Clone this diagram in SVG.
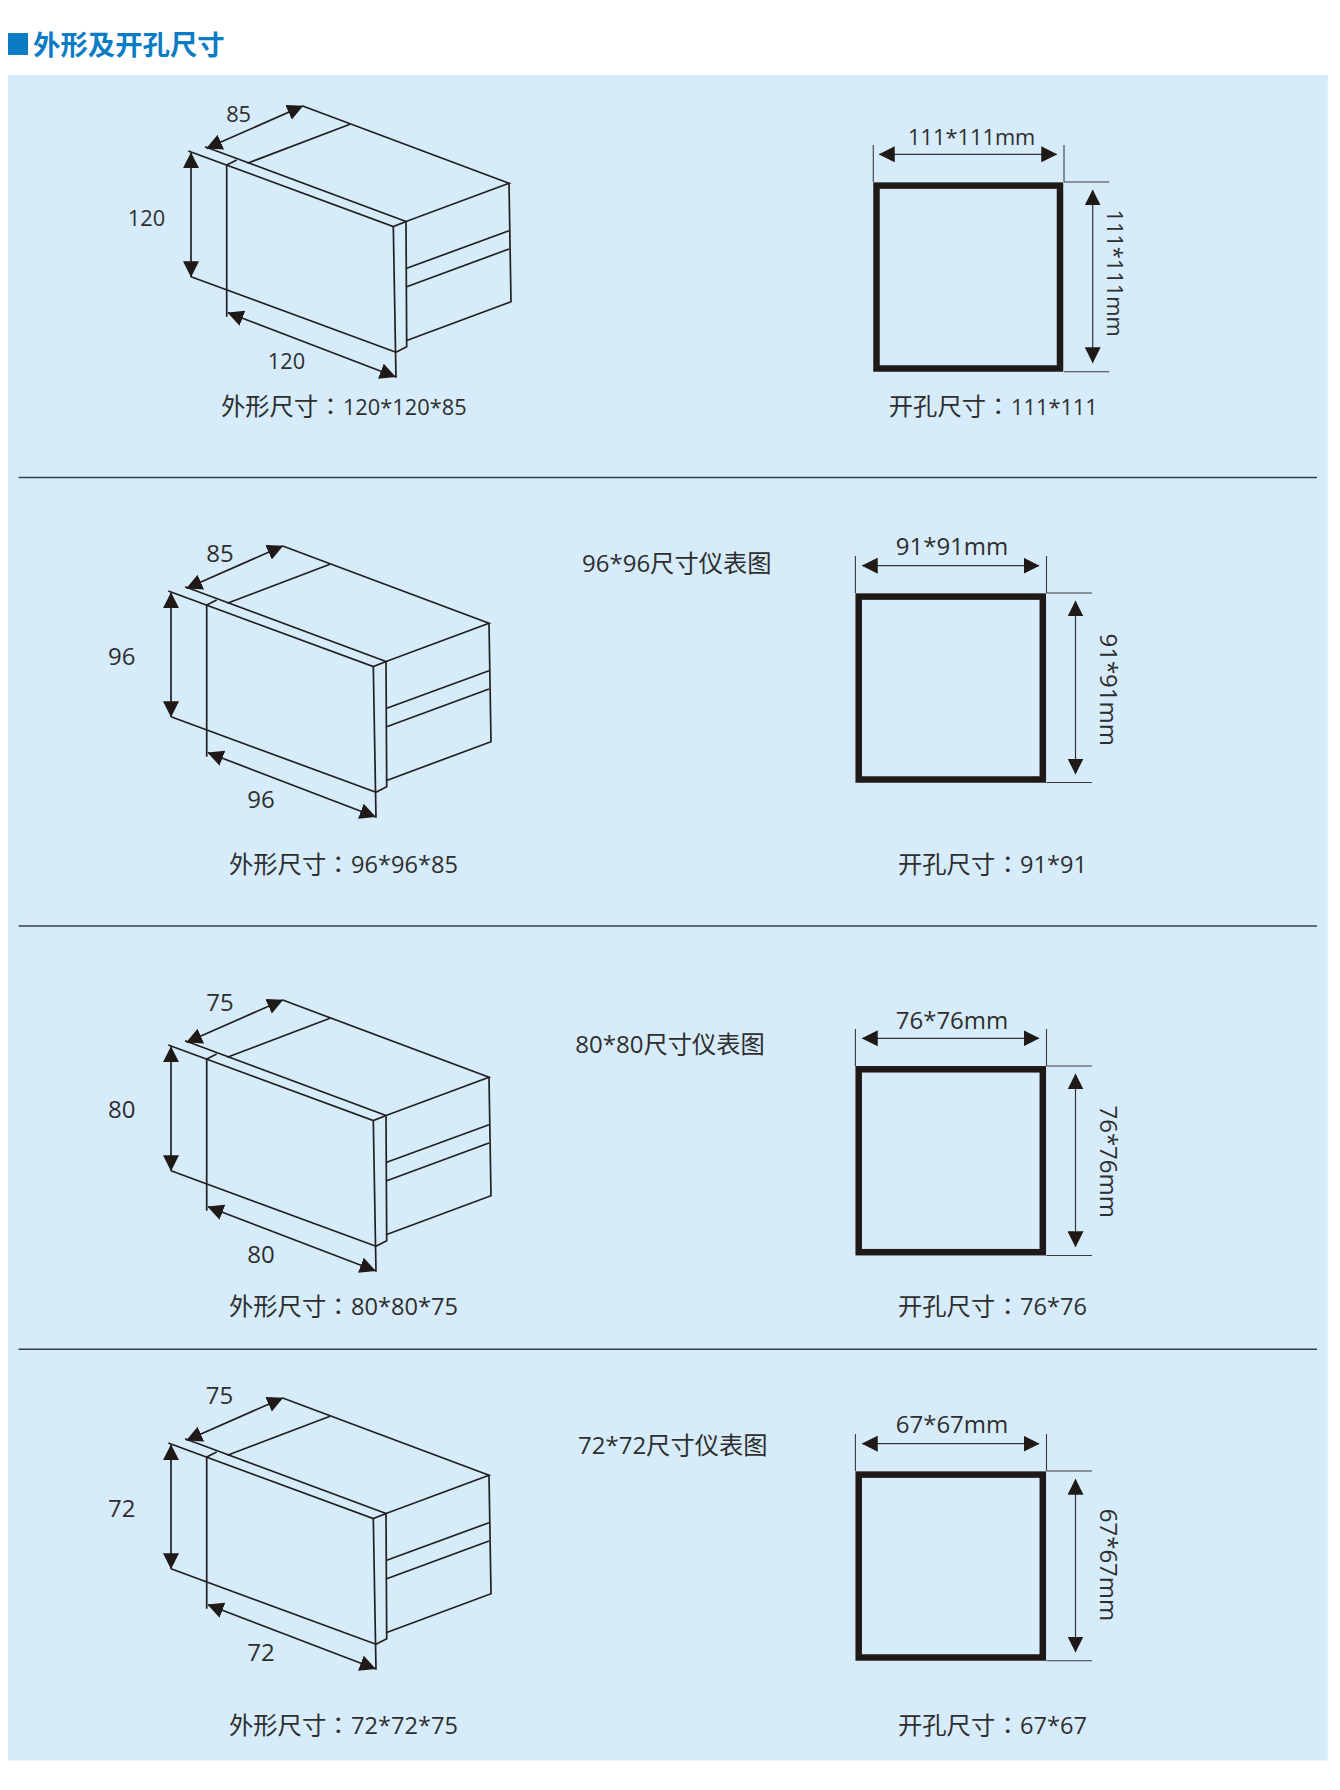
<svg xmlns="http://www.w3.org/2000/svg" xmlns:xlink="http://www.w3.org/1999/xlink" width="1340" height="1790" viewBox="0 0 1340 1790">
<style>
text{font-family:"Open Sans","Noto Sans CJK SC",sans-serif;fill:#2e2e2e;font-size:24px}
.b{font-size:21.8px}
.d{font-size:23.6px}
.c{font-family:"Noto Sans CJK SC","Open Sans",sans-serif;font-size:24.3px;font-weight:400}
.col{font-family:"Noto Sans CJK TC",sans-serif;font-size:24px;font-weight:400}
.m{text-anchor:middle}
.title{font-family:"Noto Sans CJK SC",sans-serif;font-weight:700;font-size:27.4px;fill:#0a7cc4}
.ln{fill:none;stroke:#231f20;stroke-width:1.7;stroke-linejoin:miter}
.thin{fill:none;stroke:#3a3a3a;stroke-width:1.1}
.sq{fill:none;stroke:#1f1a17;stroke-width:6.5}
.sep{stroke:#33404a;stroke-width:1.4}
.dim{fill:none;stroke:#231f20;stroke-width:1.7;marker-start:url(#ah);marker-end:url(#ah)}
.dimt{fill:none;stroke:#333;stroke-width:1.2;marker-start:url(#ah);marker-end:url(#ah)}
</style>
<defs>
<marker id="ah" markerUnits="userSpaceOnUse" markerWidth="16" markerHeight="16" viewBox="0 0 14 14" refX="13.5" refY="7" orient="auto-start-reverse"><path d="M0 0L14 7L0 14Z" fill="#1f1a17"/></marker>
<g id="device" class="ln">
<path d="M168.3 591L373.3 666.5L386 661.5L185 586.7"/>
<path d="M206.7 756.7V605L216.7 600"/>
<path d="M171 716.7L376 792.3"/>
<path d="M373.3 666.5L376 817.7"/>
<path d="M376 792.3L386.7 786.7L386 661.5L489 623.3L282.7 546"/>
<path d="M330 564.3L227.3 603.3"/>
<path d="M489 623.3L491 741.7L386 780.7"/>
<path d="M386.7 708.3L489 670.7M386.7 726.7L489 689"/>
</g>
</defs>
<rect id="panel" x="8" y="75" width="1319.7" height="1685.6" fill="#d6ecfb"/>
<g id="heading">
<rect x="8" y="33" width="20" height="22" fill="#0a7cc4"/>
<text class="title" x="33" y="55">外形及开孔尺寸</text>
</g>
<g id="separators">
<line class="sep" x1="18.6" y1="477.5" x2="1317" y2="477.5"/>
<line class="sep" x1="18.6" y1="926" x2="1317" y2="926"/>
<line class="sep" x1="18.6" y1="1349.3" x2="1317" y2="1349.3"/>
</g>
<g id="device-120">
<use href="#device" xlink:href="#device" x="20" y="-440"/>
<text class="b m" x="238.6" y="121.7">85</text>
<text class="b m" x="146.4" y="225.7">120</text>
<text class="b m" x="286.4" y="369">120</text>
<text y="415"><tspan class="c" x="221">外形尺寸</tspan><tspan class="col" x="318.4">：</tspan><tspan class="b" x="342.9">120*120*85</tspan></text>
</g>
<g id="cutout-111">
<rect class="sq" x="876.5" y="185.6" width="183.5" height="182.9"/>
<path class="thin" d="M873.3 145V182M1064 145V182M1064 182H1109.3M1064 371.7H1109.3"/>
<text class="b m" x="971.7" y="145">111*111mm</text>
<text class="b m" transform="translate(1106.5 273) rotate(90)">111*111mm</text>
<text y="415"><tspan class="c" x="888.8">开孔尺寸</tspan><tspan class="col" x="986.3">：</tspan><tspan class="b" x="1011">111*111</tspan></text>
</g>
<g id="device-96">
<use href="#device" xlink:href="#device"/>
<text class="m" x="220" y="561.7">85</text>
<text class="m" x="121.7" y="665">96</text>
<text class="m" x="261" y="808.3">96</text>
<text y="872.7"><tspan class="c" x="229">外形尺寸</tspan><tspan class="col" x="326.3">：</tspan><tspan class="d" x="351">96*96*85</tspan></text>
</g>
<g id="title-96"><text y="571.7" x="582">96*96<tspan class="c">尺寸仪表图</tspan></text></g>
<g id="cutout-91">
<rect class="sq" x="858.7" y="596.6" width="184.1" height="182.9"/>
<path class="thin" d="M855.4 556V593M1046.5 556V593M1046.5 593H1092M1046.5 782.5H1092"/>
<text class="m" x="952" y="555">91*91mm</text>
<text class="m" transform="translate(1100 689.7) rotate(90)">91*91mm</text>
<text y="872.7"><tspan class="c" x="898">开孔尺寸</tspan><tspan class="col" x="995.8">：</tspan><tspan class="d" x="1020">91*91</tspan></text>
</g>
<g id="device-80">
<use href="#device" xlink:href="#device" y="454"/>
<text class="m" x="220" y="1010.7">75</text>
<text class="m" x="121.7" y="1118.3">80</text>
<text class="m" x="261" y="1262.7">80</text>
<text y="1315"><tspan class="c" x="229">外形尺寸</tspan><tspan class="col" x="326.3">：</tspan><tspan class="d" x="351">80*80*75</tspan></text>
</g>
<g id="title-80"><text y="1053" x="575.3">80*80<tspan class="c">尺寸仪表图</tspan></text></g>
<g id="cutout-76">
<rect class="sq" x="858.7" y="1069.3" width="184.1" height="182.9"/>
<path class="thin" d="M855.4 1029V1066M1046.5 1029V1066M1046.5 1066H1092M1046.5 1255.5H1092"/>
<text class="m" x="952" y="1029">76*76mm</text>
<text class="m" transform="translate(1100 1161.7) rotate(90)">76*76mm</text>
<text y="1315"><tspan class="c" x="898">开孔尺寸</tspan><tspan class="col" x="995.8">：</tspan><tspan class="d" x="1020">76*76</tspan></text>
</g>
<g id="device-72">
<use href="#device" xlink:href="#device" y="852"/>
<text class="m" x="219.5" y="1404">75</text>
<text class="m" x="121.7" y="1517.3">72</text>
<text class="m" x="261" y="1661">72</text>
<text y="1734"><tspan class="c" x="229">外形尺寸</tspan><tspan class="col" x="326.3">：</tspan><tspan class="d" x="351">72*72*75</tspan></text>
</g>
<g id="title-72"><text y="1454.3" x="578">72*72<tspan class="c">尺寸仪表图</tspan></text></g>
<g id="cutout-67">
<rect class="sq" x="858.7" y="1474.6" width="184.1" height="182.9"/>
<path class="thin" d="M855.4 1434V1471M1046.5 1434V1471M1046.5 1471H1092M1046.5 1660.7H1092"/>
<text class="m" x="952" y="1433.3">67*67mm</text>
<text class="m" transform="translate(1100 1565) rotate(90)">67*67mm</text>
<text y="1734"><tspan class="c" x="898">开孔尺寸</tspan><tspan class="col" x="995.8">：</tspan><tspan class="d" x="1020">67*67</tspan></text>
</g>
<g id="connectors">
<line class="dim" x1="206.7" y1="148.3" x2="302.7" y2="106"/>
<line class="dim" x1="191" y1="152.7" x2="191" y2="276.7"/>
<line class="dim" x1="228" y1="312.7" x2="395.3" y2="376.7"/>
<line class="dimt" x1="879.3" y1="154.3" x2="1056.7" y2="154.3"/>
<line class="dimt" x1="1092.7" y1="190" x2="1092.7" y2="362.7"/>
<line class="dim" x1="186.7" y1="588.3" x2="282.7" y2="546"/>
<line class="dim" x1="171" y1="592.7" x2="171" y2="716.7"/>
<line class="dim" x1="208" y1="752.7" x2="375.3" y2="816.7"/>
<line class="dimt" x1="862.3" y1="565.7" x2="1039" y2="565.7"/>
<line class="dimt" x1="1075.5" y1="601" x2="1075.5" y2="774"/>
<line class="dim" x1="186.7" y1="1042.3" x2="282.7" y2="1000"/>
<line class="dim" x1="171" y1="1046.7" x2="171" y2="1170.7"/>
<line class="dim" x1="208" y1="1206.7" x2="375.3" y2="1270.7"/>
<line class="dimt" x1="862.3" y1="1038.3" x2="1039" y2="1038.3"/>
<line class="dimt" x1="1075.5" y1="1074" x2="1075.5" y2="1246.7"/>
<line class="dim" x1="186.7" y1="1440.3" x2="282.7" y2="1398"/>
<line class="dim" x1="171" y1="1444.7" x2="171" y2="1568.7"/>
<line class="dim" x1="208" y1="1604.7" x2="375.3" y2="1668.7"/>
<line class="dimt" x1="862.3" y1="1443.7" x2="1039" y2="1443.7"/>
<line class="dimt" x1="1075.5" y1="1479.3" x2="1075.5" y2="1652"/>
</g>
</svg>
